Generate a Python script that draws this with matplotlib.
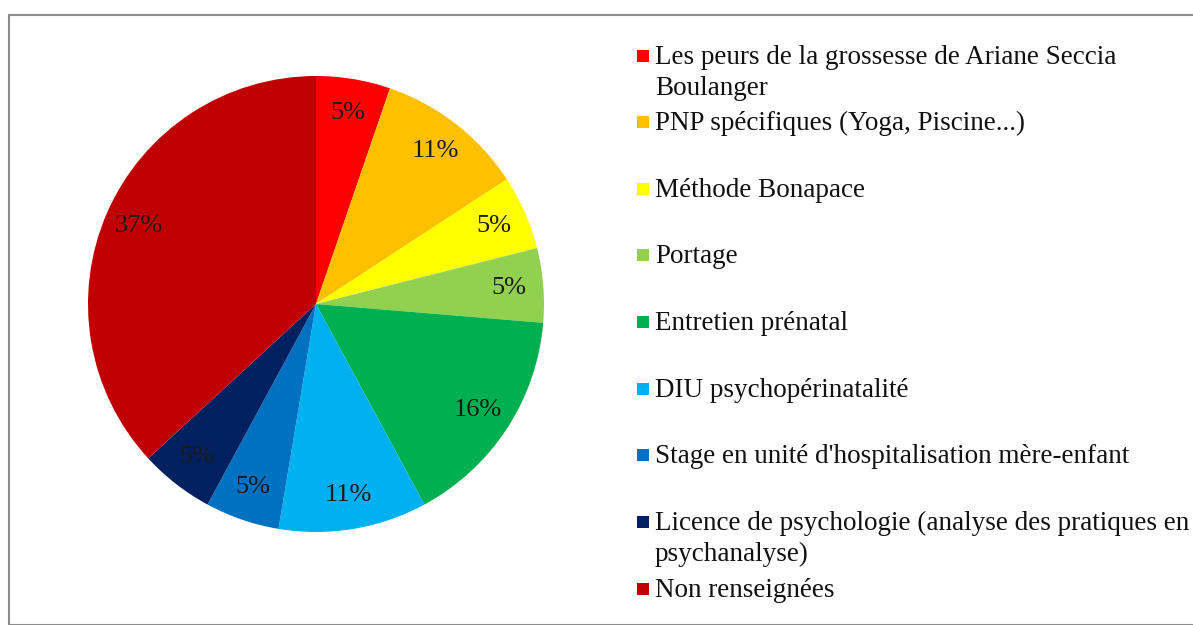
import matplotlib
matplotlib.use("Agg")
import matplotlib.pyplot as plt
from matplotlib.patches import Rectangle

categories = [
    "Les peurs de la grossesse de Ariane Seccia\nBoulanger",
    "PNP spécifiques (Yoga, Piscine...)",
    "Méthode Bonapace",
    "Portage",
    "Entretien prénatal",
    "DIU psychopérinatalité",
    "Stage en unité d'hospitalisation mère-enfant",
    "Licence de psychologie (analyse des pratiques en\npsychanalyse)",
    "Non renseignées",
]
counts = [1, 2, 1, 1, 3, 2, 1, 1, 7]
colors = ["#FF0000", "#FFC000", "#FFFF00", "#92D050", "#00B050",
          "#00B0F0", "#0070C0", "#002060", "#C00000"]

plt.rcParams['font.family'] = ['Liberation Serif', 'DejaVu Serif']

W, H = 1193, 625
fig = plt.figure(figsize=(W / 100, H / 100), dpi=100)

# border
fig.patches.append(Rectangle((9 / W, 0), 1.2, 1 - 15 / H, transform=fig.transFigure,
                             fill=False, edgecolor="#8c8c8c", linewidth=1.5))

cx, cy, r = 316, 304, 228
ax = fig.add_axes([(cx - r) / W, 1 - (cy + r) / H, 2 * r / W, 2 * r / H])
wedges, texts, autotexts = ax.pie(
    counts, colors=colors, startangle=90, counterclock=False,
    autopct=lambda p: f"{p:.0f}%", pctdistance=0.85,
    wedgeprops=dict(linewidth=0),
    textprops=dict(fontsize=19, color="#1a1a1a"))
ax.set_xlim(-1, 1)
ax.set_ylim(-1, 1)
ax.set_aspect("equal")

# legend
marker_y = [56, 122, 189, 255, 322, 389, 455, 522, 589]
for lab, col, y in zip(categories, colors, marker_y):
    fig.patches.append(Rectangle((637 / W, 1 - (y + 6) / H), 12 / W, 12 / H,
                                 transform=fig.transFigure, facecolor=col, edgecolor="none"))
    lines = lab.split("\n")
    for i, line in enumerate(lines):
        fig.text(655 / W, 1 - (y + 8 + 31 * i) / H, line, fontsize=19.5,
                 va="baseline", ha="left", color="#111111")

fig.savefig("out.png", dpi=100)
